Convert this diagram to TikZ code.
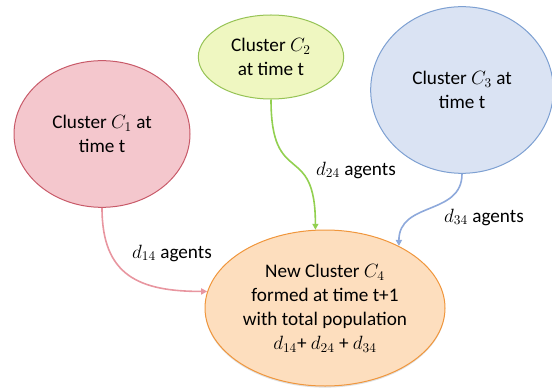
\documentclass[tikz,border=0pt]{standalone}
\usepackage{fontspec}
\setmainfont{Carlito}
\usetikzlibrary{arrows.meta,shapes.geometric,shadows}
\definecolor{pinkfill}{RGB}{244,199,205}
\definecolor{pinkline}{RGB}{200,90,105}
\definecolor{pinkflow}{RGB}{232,150,160}
\definecolor{greenfill}{RGB}{239,247,193}
\definecolor{greenline}{RGB}{150,195,85}
\definecolor{greenflow}{RGB}{146,208,80}
\definecolor{bluefill}{RGB}{218,227,243}
\definecolor{blueline}{RGB}{125,160,210}
\definecolor{blueflow}{RGB}{142,169,219}
\definecolor{orangefill}{RGB}{253,222,190}
\definecolor{orangeline}{RGB}{240,150,60}

\tikzset{
	cluster/.style={ellipse, draw, line width=0.75pt, align=center, inner sep=0pt,
		font=\fontsize{14.4}{18}\selectfont},
	flow/.style={line width=1.2pt, -{Triangle[length=4.5pt,width=4.5pt]}},
	flowlabel/.style={font=\fontsize{14.4}{17}\selectfont, inner sep=1pt}
}

\begin{document}
\begin{tikzpicture}[x=0.75pt,y=-0.75pt]
		%%%%% START %%%%%
		
		\useasboundingbox (0,0) rectangle (552,388);
		
		% clusters at time t
		\node[cluster, fill=pinkfill, draw=pinkline, minimum width=132pt, minimum height=110pt] (c1) at (102,134) {Cluster $C_1$ at\\time t};
		\node[cluster, fill=greenfill, draw=greenline, minimum width=109pt, minimum height=63pt] (c2) at (271,57) {Cluster $C_2$\\at time t};
		\node[cluster, fill=bluefill, draw=blueline, minimum width=137pt, minimum height=125pt] (c3) at (462,90) {Cluster $C_3$ at\\time t};
		
		% merged cluster at time t+1
		\node[cluster, fill=orangefill, draw=orangeline, minimum width=180pt, minimum height=117pt,
			drop shadow={opacity=0.25, shadow xshift=0pt, shadow yshift=-1.2pt}] (c4) at (325,308)
			{New Cluster $C_4$\\formed at time t+1\\with total population\\$d_{14}$+ $d_{24}$ + $d_{34}$};
		
		% agents moving over
		\draw[flow, pinkflow] (c1.south) .. controls +(0,68) and +(-68,0) .. (c4.172);
		\draw[flow, greenflow] (c2.south) .. controls +(0,90) and +(0,-90) .. (c4.97);
		\draw[flow, blueflow] (c3.south) .. controls +(0,42) and +(0,-45) .. (c4.40);
		
		\node[flowlabel] (l14) at (172,253) {$d_{14}$ agents};
		\node[flowlabel] (l24) at (356,170) {$d_{24}$ agents};
		\node[flowlabel] (l34) at (484,217) {$d_{34}$ agents};
		
		%%%%% END %%%%%
	\end{tikzpicture}
\end{document}
